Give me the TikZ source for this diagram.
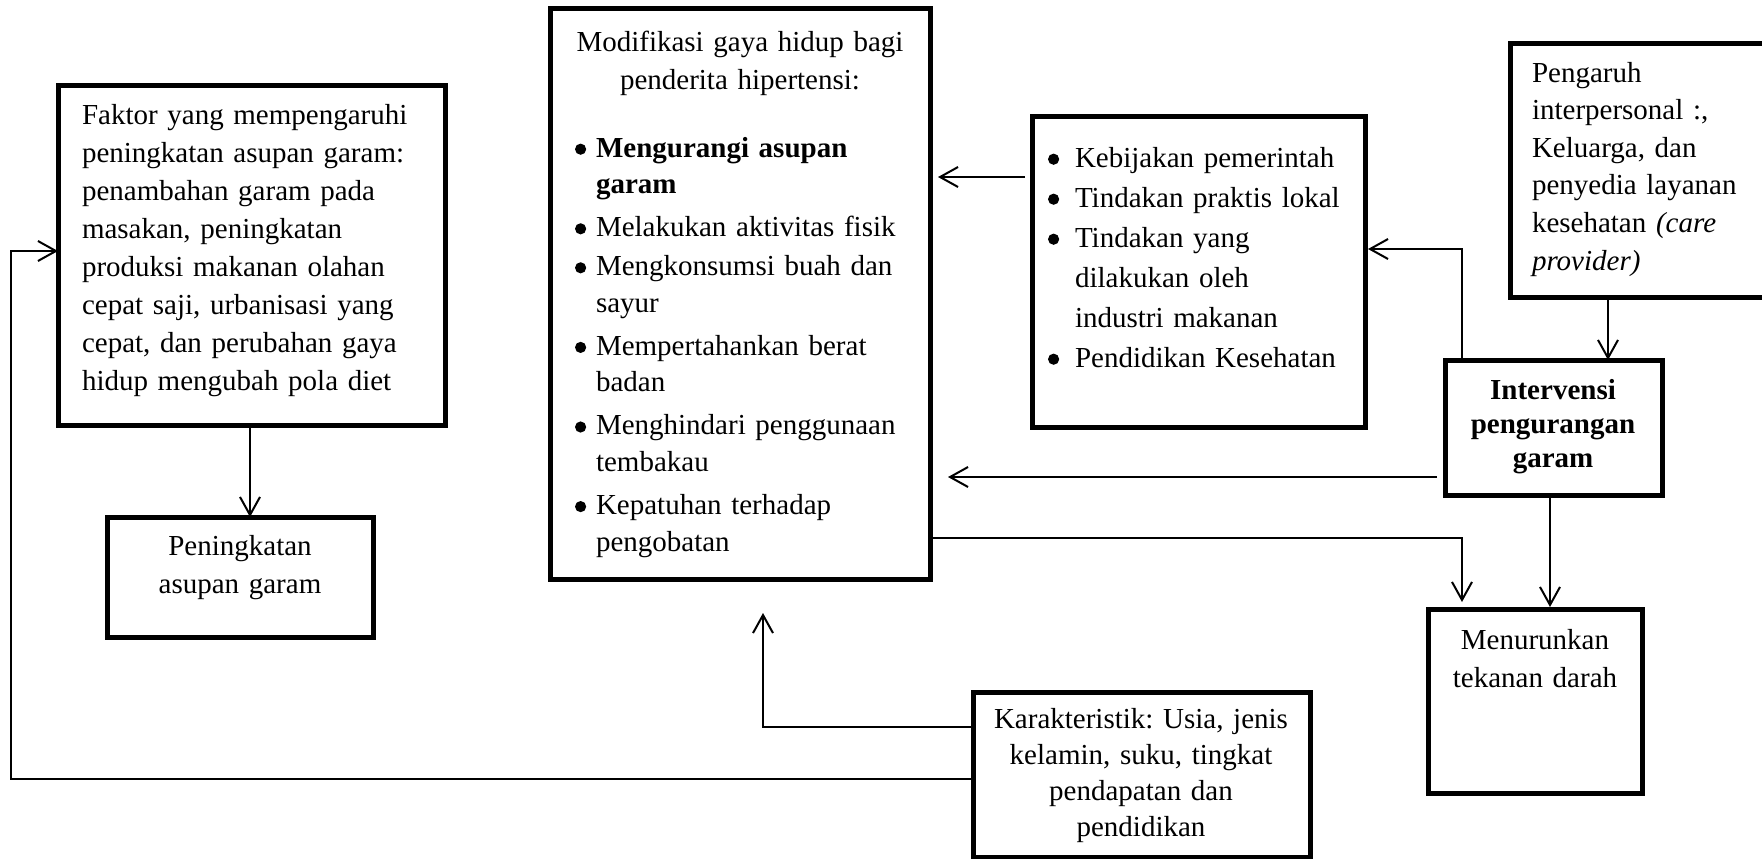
\documentclass[tikz,border=0pt]{standalone}
\usepackage{fontspec}
\setmainfont{Liberation Serif}
\usetikzlibrary{arrows.meta,calc}
\frenchspacing
\newcommand{\fs}[1]{\fontsize{14.5}{#1}\selectfont}
\newcommand{\bdot}{\tikz[x=1pt,y=1pt,baseline=0pt]{\fill (2.8,3.9) circle (2.8);}}
\newcommand{\bul}[1]{\makebox[#1][l]{\bdot}}
\begin{document}
\begin{tikzpicture}[x=0.5pt,y=-0.5pt,
  box/.style={draw,line width=2.5pt,inner sep=0pt,outer sep=0pt,anchor=north west},
  conn/.style={line width=1pt},
  arr/.style={conn,-{Straight Barb[length=9pt,width=10pt,line width=1pt]}},
  txt/.style={inner sep=0pt,outer sep=0pt}]
\useasboundingbox (0,0) rectangle (1762,858);

% boxes
\node[box,minimum width=193.5pt,minimum height=170pt] (faktor) at (58,85) {};
\node[box,minimum width=133pt,minimum height=60pt] (pening) at (107,517) {};
\node[box,minimum width=190pt,minimum height=285.5pt] (modif) at (550,8) {};
\node[box,minimum width=166.5pt,minimum height=155.5pt] (kebij) at (1032,116) {};
\node[box,minimum width=132.5pt,minimum height=127pt] (penga) at (1510,43) {};
\node[box,minimum width=108.5pt,minimum height=67.5pt] (interv) at (1445,360) {};
\node[box,minimum width=107pt,minimum height=92pt] (menur) at (1428,609) {};
\node[box,minimum width=168.5pt,minimum height=82.5pt] (karak) at (973,692) {};

% texts
\node[txt,anchor=base west,text width=185pt,align=left,font=\fs{19pt}] (tfaktor) at (82,124)
 {Faktor yang mempengaruhi\\ peningkatan asupan garam:\\ penambahan garam pada\\ masakan, peningkatan\\ produksi makanan olahan\\ cepat saji, urbanisasi yang\\ cepat, dan perubahan gaya\\ hidup mengubah pola diet};
\node[txt,anchor=base,text width=130pt,align=center,font=\fs{19.3pt}] (tpening) at (240,555)
 {Peningkatan\\ asupan garam};
\node[txt,anchor=base,text width=185pt,align=center,font=\fs{19.25pt}] (tmodif) at (740,51)
 {Modifikasi gaya hidup bagi\\ penderita hipertensi:};
\node[txt,anchor=base west,text width=180pt,align=left,font=\fs{18.3pt}] (tmodlist) at (575,157)
 {\bul{10.5pt}\textbf{Mengurangi asupan}\\
  \hspace*{10.5pt}\textbf{garam}\\[3.2pt]
  \bul{10.5pt}Melakukan aktivitas fisik\\[1.2pt]
  \bul{10.5pt}Mengkonsumsi buah dan\\
  \hspace*{10.5pt}sayur\\[3.2pt]
  \bul{10.5pt}Mempertahankan berat\\
  \hspace*{10.5pt}badan\\[3.2pt]
  \bul{10.5pt}Menghindari penggunaan\\
  \hspace*{10.5pt}tembakau\\[3.2pt]
  \bul{10.5pt}Kepatuhan terhadap\\
  \hspace*{10.5pt}pengobatan};
\node[txt,anchor=base west,text width=160pt,align=left,font=\fs{20pt}] (tkebij) at (1048,167)
 {\bul{13.5pt}Kebijakan pemerintah\\
  \bul{13.5pt}Tindakan praktis lokal\\
  \bul{13.5pt}Tindakan yang\\
  \hspace*{13.5pt}dilakukan oleh\\
  \hspace*{13.5pt}industri makanan\\
  \bul{13.5pt}Pendidikan Kesehatan};
\node[txt,anchor=base west,text width=120pt,align=left,font=\fs{18.8pt}] (tpenga) at (1532,82)
 {Pengaruh\\ interpersonal :,\\ Keluarga, dan\\ penyedia layanan\\ kesehatan \textit{(care}\\ \textit{provider)}};
\node[txt,anchor=base,text width=105pt,align=center,font=\bfseries\fs{17pt}] (tinterv) at (1553,399)
 {Intervensi\\ pengurangan\\ garam};
\node[txt,anchor=base,text width=105pt,align=center,font=\fs{19pt}] (tmenur) at (1535,649)
 {Menurunkan\\ tekanan darah};
\node[txt,anchor=base,text width=165pt,align=center,font=\fs{18pt}] (tkarak) at (1141,728)
 {Karakteristik: Usia, jenis\\ kelamin, suku, tingkat\\ pendapatan dan\\ pendidikan};

% helper coordinates
\coordinate (loopx) at (11,779);
\coordinate (loopy) at (11,251);
\coordinate (upx) at (763,727);
\coordinate (ky) at (0,177);
\coordinate (iy) at (0,249);
\coordinate (ix) at (1462,0);
\coordinate (py) at (1608,0);
\coordinate (iwy) at (0,477);
\coordinate (mey) at (0,538);
\coordinate (isx) at (1550,0);

% connectors
\draw[arr] (faktor.south -| 250,0) -- (pening.north -| 250,0);
\draw[arr] (karak.west |- loopx) -- (loopx) -- (loopy) -- (faktor.west |- loopy);
\draw[arr,shorten >=17pt] (karak.west |- upx) -| (modif.south -| upx);
\draw[arr,shorten <=3.5pt,shorten >=4pt] (kebij.west |- ky) -- (modif.east |- ky);
\draw[arr,shorten >=1.5pt] (interv.north -| ix) -- (ix |- iy) -- (kebij.east |- iy);
\draw[arr] (penga.south -| py) -- (interv.north -| py);
\draw[arr,shorten <=4pt,shorten >=9pt] (interv.west |- iwy) -- (modif.east |- iwy);
\draw[arr,shorten >=3.5pt] (modif.east |- mey) -| (menur.north -| ix);
\draw[arr,shorten >=1pt] (interv.south -| isx) -- (menur.north -| isx);
\end{tikzpicture}
\end{document}
